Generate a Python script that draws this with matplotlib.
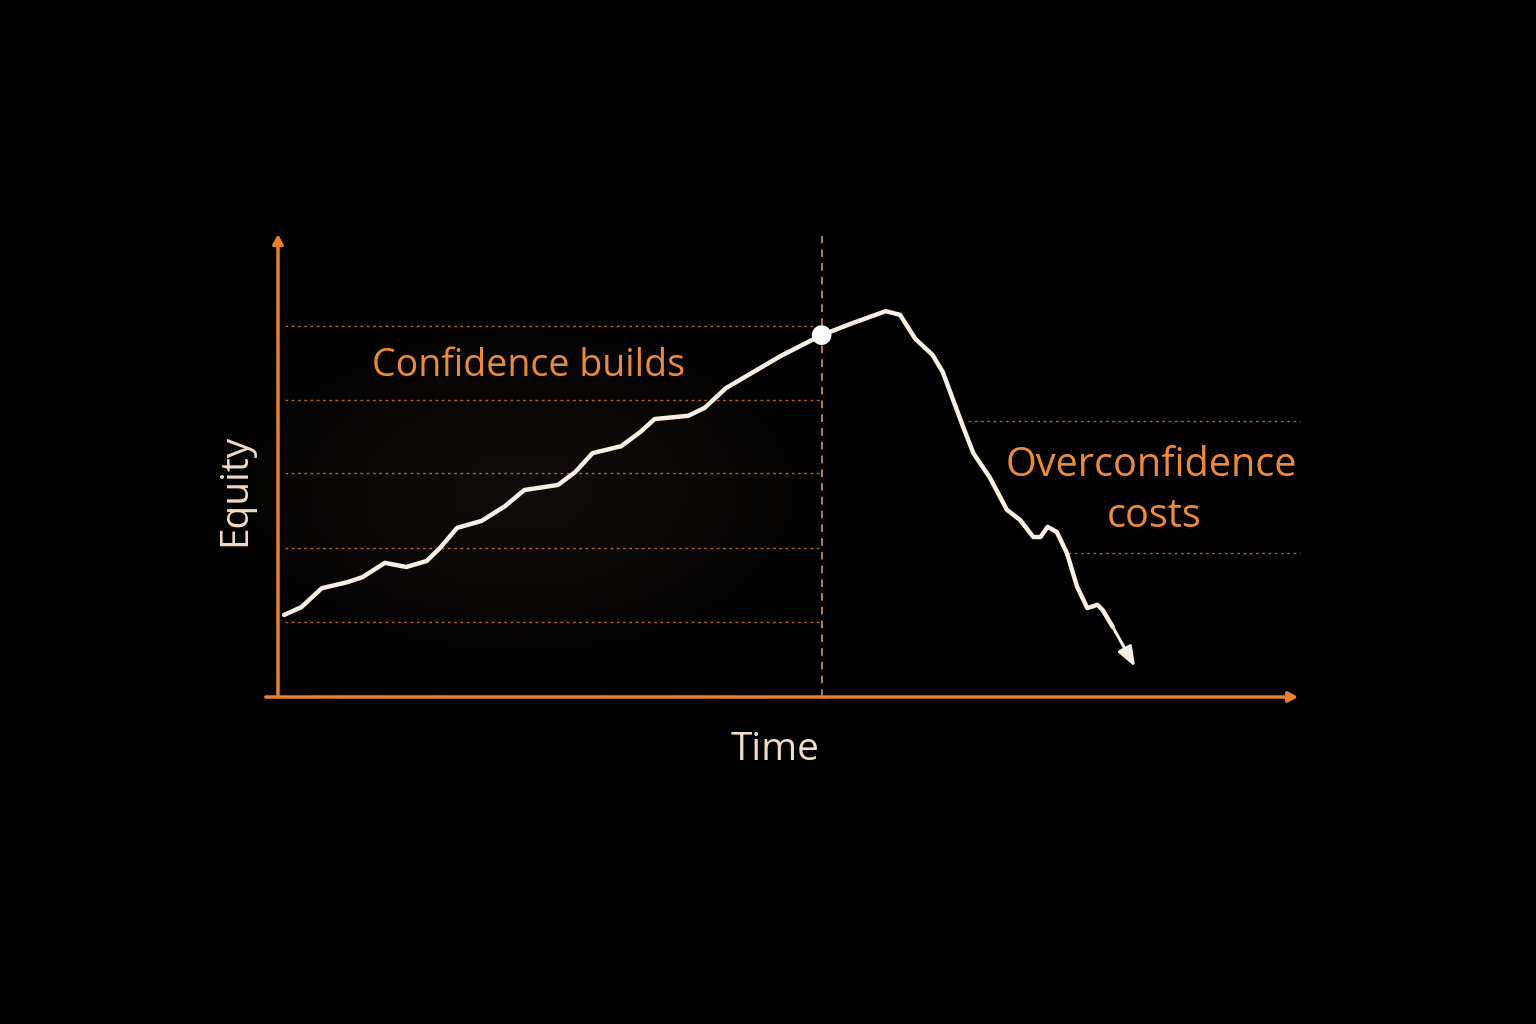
import matplotlib
matplotlib.use("Agg")
import matplotlib.pyplot as plt
import numpy as np

# equity curve (time, equity) in arbitrary units
time = [0.6, 2.3, 4.3, 6.8, 8.3, 10.5, 12.6, 14.6, 15.9, 17.6, 20.0, 22.3, 24.2,
        27.5, 29.2, 30.9, 33.7, 35.6, 37.0, 40.3, 41.9, 44.0, 49.4, 53.4, 56.2,
        59.7, 61.1, 62.6, 64.3, 65.3, 67.3, 68.3, 69.9, 71.6, 72.9, 74.2, 74.9,
        75.6, 76.5, 77.5, 78.5, 79.5, 80.5, 81.0, 82.0]
equity = [17.8, 19.5, 23.6, 24.9, 26.0, 29.1, 28.2, 29.5, 32.3, 36.7, 38.2, 41.4,
          44.9, 46.0, 48.8, 52.9, 54.4, 57.5, 60.3, 61.0, 62.7, 67.0, 74.0, 78.5,
          80.9, 83.7, 82.9, 77.7, 74.2, 70.5, 58.6, 52.9, 47.7, 40.6, 38.4, 34.7,
          34.7, 36.9, 35.8, 31.2, 23.9, 19.3, 20.0, 18.9, 15.2]

turn_time, turn_equity = 53.4, 78.5
arrow_end = (84.2, 6.5)

left_levels = [16.3, 32.3, 48.6, 64.4, 80.5]
right_levels = [59.9, 31.2]
right_starts = [67.8, 77.6]

ORANGE = "#ec8a3c"
AXIS = "#e8802f"
GRID = "#c9753b"
CURVE = "#f7efe3"
LABEL = "#f0dcc4"
FONT = ["Open Sans", "DejaVu Sans"]

fig = plt.figure(figsize=(15.36, 10.24), dpi=100, facecolor="black")

# faint warm glow behind the left part of the chart
bg = fig.add_axes([0, 0, 1, 1])
bg.set_axis_off()
gx, gy = np.meshgrid(np.linspace(0, 1, 300), np.linspace(0, 1, 200))
glow = np.exp(-(((gx - 0.34) / 0.17) ** 2 + ((gy - 0.52) / 0.15) ** 2))
img = np.zeros((200, 300, 3))
img[..., 0] = 0.055 * glow
img[..., 1] = 0.045 * glow
img[..., 2] = 0.038 * glow
bg.imshow(img, extent=[0, 1, 0, 1], aspect="auto", origin="lower")
bg.set_xlim(0, 1)
bg.set_ylim(0, 1)

ax = fig.add_axes([278 / 1536, 327 / 1024, 1018 / 1536, 461 / 1024])
ax.set_facecolor("none")
ax.set_xlim(0, 100)
ax.set_ylim(0, 100)
ax.set_axis_off()

# axes with arrows
ax.annotate("", xy=(100.2, 0), xytext=(-1.2, 0),
            arrowprops=dict(arrowstyle="-|>,head_length=0.55,head_width=0.3",
                            color=AXIS, lw=2.5, shrinkA=0, shrinkB=0),
            annotation_clip=False)
ax.annotate("", xy=(0, 100.4), xytext=(0, 0),
            arrowprops=dict(arrowstyle="-|>,head_length=0.55,head_width=0.3",
                            color=AXIS, lw=2.5, shrinkA=0, shrinkB=0),
            annotation_clip=False)

# dotted guide lines
for lv in left_levels:
    ax.plot([0.7, turn_time], [lv, lv], color=GRID, lw=1.0, ls=(0, (2, 2.5)), alpha=0.85)
for lv, x0 in zip(right_levels, right_starts):
    ax.plot([x0, 100.4], [lv, lv], color=GRID, lw=1.0, ls=(0, (2, 2.5)), alpha=0.85,
            clip_on=False)

# vertical dashed marker
ax.plot([turn_time, turn_time], [0, 100], color="#d9a37c", lw=1.1, ls=(0, (5, 4)))

# equity curve
ax.plot(time, equity, color=CURVE, lw=3.2, solid_joinstyle="round",
        solid_capstyle="round", zorder=5)
ax.annotate("", xy=arrow_end, xytext=(time[-1], equity[-1]),
            arrowprops=dict(arrowstyle="-|>,head_length=1.2,head_width=0.45",
                            color=CURVE, lw=2.2, shrinkA=0, shrinkB=0), zorder=5)
ax.scatter([turn_time], [turn_equity], s=200, color="white", zorder=6, edgecolors="none")

# texts
ax.text(24.6, 71.9, "Confidence builds", color=ORANGE, fontsize=27,
        ha="center", va="center", family=FONT)
ax.text(85.8, 50.2, "Overconfidence", color=ORANGE, fontsize=28.5,
        ha="center", va="center", family=FONT)
ax.text(86.1, 39.2, "costs", color=ORANGE, fontsize=28.5,
        ha="center", va="center", family=FONT)
ax.text(-4.2, 44.9, "Equity", color=LABEL, fontsize=28, rotation=90,
        ha="center", va="center", family=FONT)
ax.text(48.8, -11.6, "Time", color=LABEL, fontsize=28,
        ha="center", va="center", family=FONT)

fig.savefig("out.png", dpi=100, facecolor="black")
